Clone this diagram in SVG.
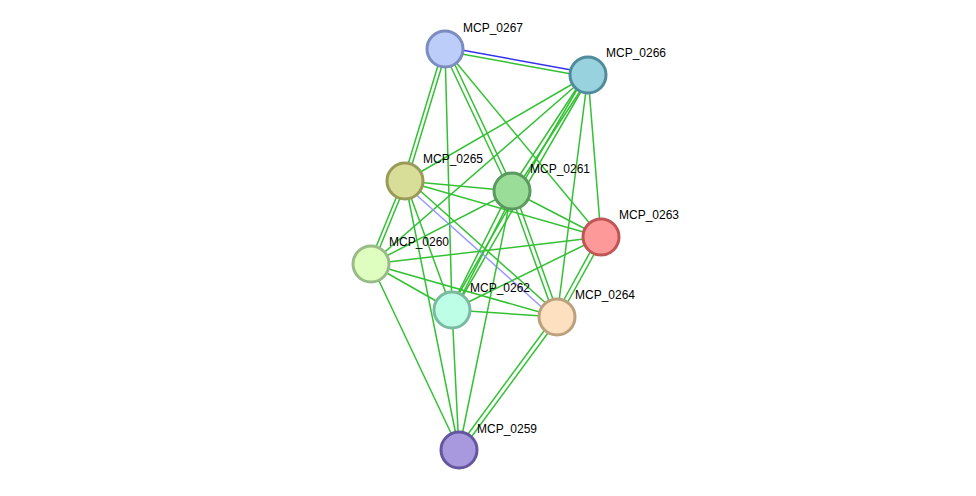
<svg xmlns="http://www.w3.org/2000/svg" width="976" height="496" viewBox="0 0 976 496">
<style>
.e{stroke:#33c133;stroke-width:1.5;fill:none}
.b{stroke:#3333ee;stroke-width:1.5}
.lb{stroke:#9999ff;stroke-width:1.5}
.n{stroke-width:3}
text{font-family:"Liberation Sans",Arial,sans-serif;font-size:12px;fill:#000}
</style>
<rect width="976" height="496" fill="#fff"/>
<g id="connectors">
<line class="b" x1="445" y1="47" x2="588" y2="73"/><line class="e" x1="445" y1="51" x2="588" y2="77"/>
<line class="e" x1="443" y1="49" x2="403" y2="181"/><line class="e" x1="447" y1="49" x2="407" y2="181"/>
<line class="e" x1="445" y1="49" x2="452" y2="310"/>
<line class="e" x1="443" y1="50" x2="510" y2="192"/><line class="e" x1="447" y1="48" x2="514" y2="190"/>
<line class="e" x1="445" y1="49" x2="601" y2="237"/>
<line class="e" x1="588" y1="75" x2="405" y2="181"/>
<line class="e" x1="588" y1="75" x2="371" y2="264"/>
<line class="e" x1="586" y1="74" x2="510" y2="190"/><line class="e" x1="590" y1="76" x2="514" y2="192"/>
<line class="e" x1="586" y1="74" x2="450" y2="309"/><line class="e" x1="590" y1="76" x2="454" y2="311"/>
<line class="e" x1="588" y1="75" x2="557" y2="317"/>
<line class="e" x1="588" y1="75" x2="601" y2="237"/>
<line class="e" x1="405" y1="181" x2="512" y2="191"/>
<line class="e" x1="405" y1="181" x2="601" y2="237"/>
<line class="lb" x1="403" y1="183" x2="555" y2="319"/><line class="e" x1="407" y1="179" x2="559" y2="315"/>
<line class="e" x1="403" y1="181" x2="369" y2="264"/><line class="e" x1="407" y1="181" x2="373" y2="264"/>
<line class="e" x1="405" y1="181" x2="452" y2="310"/>
<line class="e" x1="405" y1="181" x2="459" y2="450"/>
<line class="e" x1="512" y1="191" x2="371" y2="264"/>
<line class="e" x1="512" y1="191" x2="601" y2="237"/>
<line class="e" x1="510" y1="190" x2="450" y2="309"/><line class="e" x1="514" y1="192" x2="454" y2="311"/>
<line class="e" x1="510" y1="192" x2="555" y2="318"/><line class="e" x1="514" y1="190" x2="559" y2="316"/>
<line class="e" x1="512" y1="191" x2="459" y2="450"/>
<line class="e" x1="601" y1="237" x2="371" y2="264"/>
<line class="e" x1="601" y1="237" x2="452" y2="310"/>
<line class="e" x1="599" y1="236" x2="555" y2="316"/><line class="e" x1="603" y1="238" x2="559" y2="318"/>
<line class="e" x1="371" y1="264" x2="452" y2="310"/>
<line class="e" x1="371" y1="264" x2="557" y2="317"/>
<line class="e" x1="371" y1="264" x2="459" y2="450"/>
<line class="e" x1="452" y1="310" x2="557" y2="317"/>
<line class="e" x1="452" y1="310" x2="459" y2="450"/>
<line class="e" x1="555" y1="316" x2="457" y2="449"/><line class="e" x1="559" y1="318" x2="461" y2="451"/>
</g>
<g id="MCP_0267"><circle class="n" cx="445" cy="49" r="18" fill="#bccdfa" stroke="#7b8cc0"/><text x="463" y="32">MCP_0267</text></g>
<g id="MCP_0266"><circle class="n" cx="588" cy="75" r="18" fill="#98d2df" stroke="#4f8b9a"/><text x="606" y="57">MCP_0266</text></g>
<g id="MCP_0265"><circle class="n" cx="405" cy="181" r="18" fill="#d8dd97" stroke="#999a58"/><text x="423" y="163">MCP_0265</text></g>
<g id="MCP_0261"><circle class="n" cx="512" cy="191" r="18" fill="#99dd99" stroke="#5a9a5f"/><text x="530" y="173">MCP_0261</text></g>
<g id="MCP_0263"><circle class="n" cx="601" cy="237" r="18" fill="#fe9999" stroke="#c05555"/><text x="619" y="219">MCP_0263</text></g>
<g id="MCP_0260"><circle class="n" cx="371" cy="264" r="18" fill="#ddfebf" stroke="#99bb88"/><text x="389" y="246">MCP_0260</text></g>
<g id="MCP_0262"><circle class="n" cx="452" cy="310" r="18" fill="#bdfee6" stroke="#7abaa0"/><text x="470" y="292">MCP_0262</text></g>
<g id="MCP_0264"><circle class="n" cx="557" cy="317" r="18" fill="#fde0c0" stroke="#bba07d"/><text x="575" y="299">MCP_0264</text></g>
<g id="MCP_0259"><circle class="n" cx="459" cy="450" r="18" fill="#a898dd" stroke="#6656a0"/><text x="477" y="433">MCP_0259</text></g>
</svg>
